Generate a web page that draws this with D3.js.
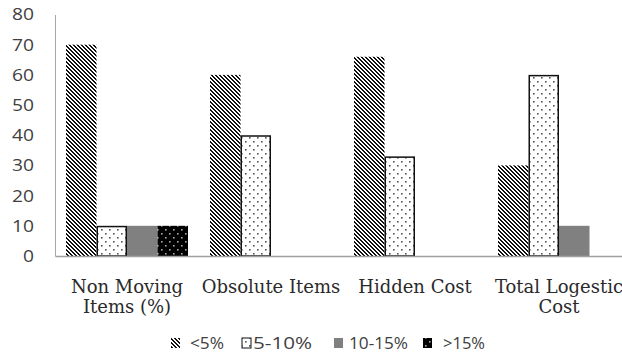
<!DOCTYPE html>
<html>
<head>
<meta charset="utf-8">
<script src="https://cdn.jsdelivr.net/npm/d3@7"></script>
<style>
  html, body { margin: 0; padding: 0; background: #fff; }
  svg { display: block; }
</style>
</head>
<body>
<svg id="chart" width="622" height="356"></svg>
<script>
// Categories (each label split into its display lines)
const categories = ["Non Moving Items (%)", "Obsolute Items", "Hidden Cost", "Total Logestic Cost"];
const categoryLines = [["Non Moving", "Items (%)"], ["Obsolute Items"], ["Hidden Cost"], ["Total Logestic", "Cost"]];
const seriesNames = ["<5%", "5-10%", "10-15%", ">15%"];

// Values per series, in category order (null = no bar)
const lt5 = [70, 60, 66, 30];
const s5to10 = [10, 40, 33, 60];
const s10to15 = [10, null, null, 10];
const gt15 = [10, null, null, null];
const seriesValues = [lt5, s5to10, s10to15, gt15];

const yTicks = [0, 10, 20, 30, 40, 50, 60, 70, 80];

const svg = d3.select("#chart");
const defs = svg.append("defs");

// Fill patterns: pixel-aligned diagonal stripes (top-left to bottom-right)
const pStripe = defs.append("pattern").attr("id", "pat-stripe")
  .attr("patternUnits", "userSpaceOnUse").attr("width", 4).attr("height", 4);
pStripe.append("rect").attr("width", 4).attr("height", 4).attr("fill", "#fff");
d3.range(4).forEach(py => d3.range(4).forEach(px => {
  if (((px - py) % 4 + 4) % 4 < 2) {
    pStripe.append("rect").attr("x", px).attr("y", py).attr("width", 1).attr("height", 1)
      .attr("fill", "#111").attr("shape-rendering", "crispEdges");
  }
}));

const pDots = defs.append("pattern").attr("id", "pat-dots")
  .attr("patternUnits", "userSpaceOnUse").attr("width", 8).attr("height", 8);
pDots.append("rect").attr("width", 8).attr("height", 8).attr("fill", "#fff");
[[1, 1], [5, 5]].forEach(([cx, cy]) =>
  pDots.append("rect").attr("x", cx).attr("y", cy).attr("width", 1.6).attr("height", 1.6).attr("fill", "#555"));

const pDark = defs.append("pattern").attr("id", "pat-dark")
  .attr("patternUnits", "userSpaceOnUse").attr("width", 8).attr("height", 8);
pDark.append("rect").attr("width", 8).attr("height", 8).attr("fill", "#000");
[[1, 1], [5, 5]].forEach(([cx, cy]) =>
  pDark.append("rect").attr("x", cx).attr("y", cy).attr("width", 1.6).attr("height", 1.6).attr("fill", "#aaa"));

const fills = ["url(#pat-stripe)", "url(#pat-dots)", "#808080", "url(#pat-dark)"];
const strokes = [null, "#111", null, null];

// Scales
const x0 = d3.scaleBand().domain(categories).range([55, 631]).padding(0);
const x1 = d3.scaleBand().domain(seriesNames).range([11, x0.bandwidth() - 11]).padding(0);
const y = d3.scaleLinear().domain([0, 80]).range([256, 14.5]);

// Y axis labels
const yAxis = d3.axisLeft(y).tickValues(yTicks).tickSize(0).tickPadding(21);
const gy = svg.append("g").attr("transform", "translate(55,0)").call(yAxis);
gy.select(".domain").attr("stroke", "#a6a6a6").attr("stroke-width", 1);
gy.selectAll("text").attr("font-family", "'Open Sans', sans-serif").attr("font-size", 17)
  .attr("fill", "#404040")
  .attr("textLength", d => String(d).length * 11)
  .attr("lengthAdjust", "spacingAndGlyphs");

// Bars
seriesValues.forEach((vals, si) => {
  svg.append("g").selectAll("rect")
    .data(categories.map((c, i) => ({ c, v: vals[i] })).filter(d => d.v != null))
    .join("rect")
    .attr("x", d => x0(d.c) + x1(seriesNames[si]) + (strokes[si] ? 0.75 : 0))
    .attr("y", d => y(d.v) + (strokes[si] ? 0.75 : 0))
    .attr("width", x1.bandwidth() - (strokes[si] ? 1.5 : 0))
    .attr("height", d => y(0) - y(d.v) - (strokes[si] ? 0.75 : 0))
    .attr("fill", fills[si])
    .attr("stroke", strokes[si] || "none")
    .attr("stroke-width", 1.5);
});

// X axis line and category labels
const xAxis = d3.axisBottom(x0).tickSize(0).tickFormat("");
const gx = svg.append("g").attr("transform", "translate(0,256)").call(xAxis);
gx.select(".domain").attr("stroke", "#a0a0a0").attr("stroke-width", 1.5);

const labels = svg.append("g");
categories.forEach((c, i) => {
  const t = labels.append("text")
    .attr("x", x0(c) + x0.bandwidth() / 2)
    .attr("y", 293)
    .attr("text-anchor", "middle")
    .attr("font-family", "'DejaVu Serif', serif")
    .attr("font-size", 18)
    .attr("fill", "#2a2a2a");
  categoryLines[i].forEach((line, li) => {
    t.append("tspan").attr("x", x0(c) + x0.bandwidth() / 2).attr("dy", li === 0 ? 0 : 20).text(line);
  });
});

// Legend
const legendX = [171, 242, 334, 423];
const legendTextX = [190, 253, 349, 443];
const legendTextW = [34, 59, 59, 42];
const legend = svg.append("g");
seriesNames.forEach((name, i) => {
  legend.append("rect")
    .attr("x", legendX[i]).attr("y", 338).attr("width", 9).attr("height", 10)
    .attr("fill", fills[i])
    .attr("stroke", strokes[i] || "none").attr("stroke-width", 1);
  legend.append("text")
    .attr("x", legendTextX[i])
    .attr("y", 349)
    .attr("font-family", "'Open Sans', sans-serif")
    .attr("font-size", 16)
    .attr("fill", "#404040")
    .attr("textLength", legendTextW[i])
    .attr("lengthAdjust", "spacingAndGlyphs")
    .text(name);
});
</script>
</body>
</html>
